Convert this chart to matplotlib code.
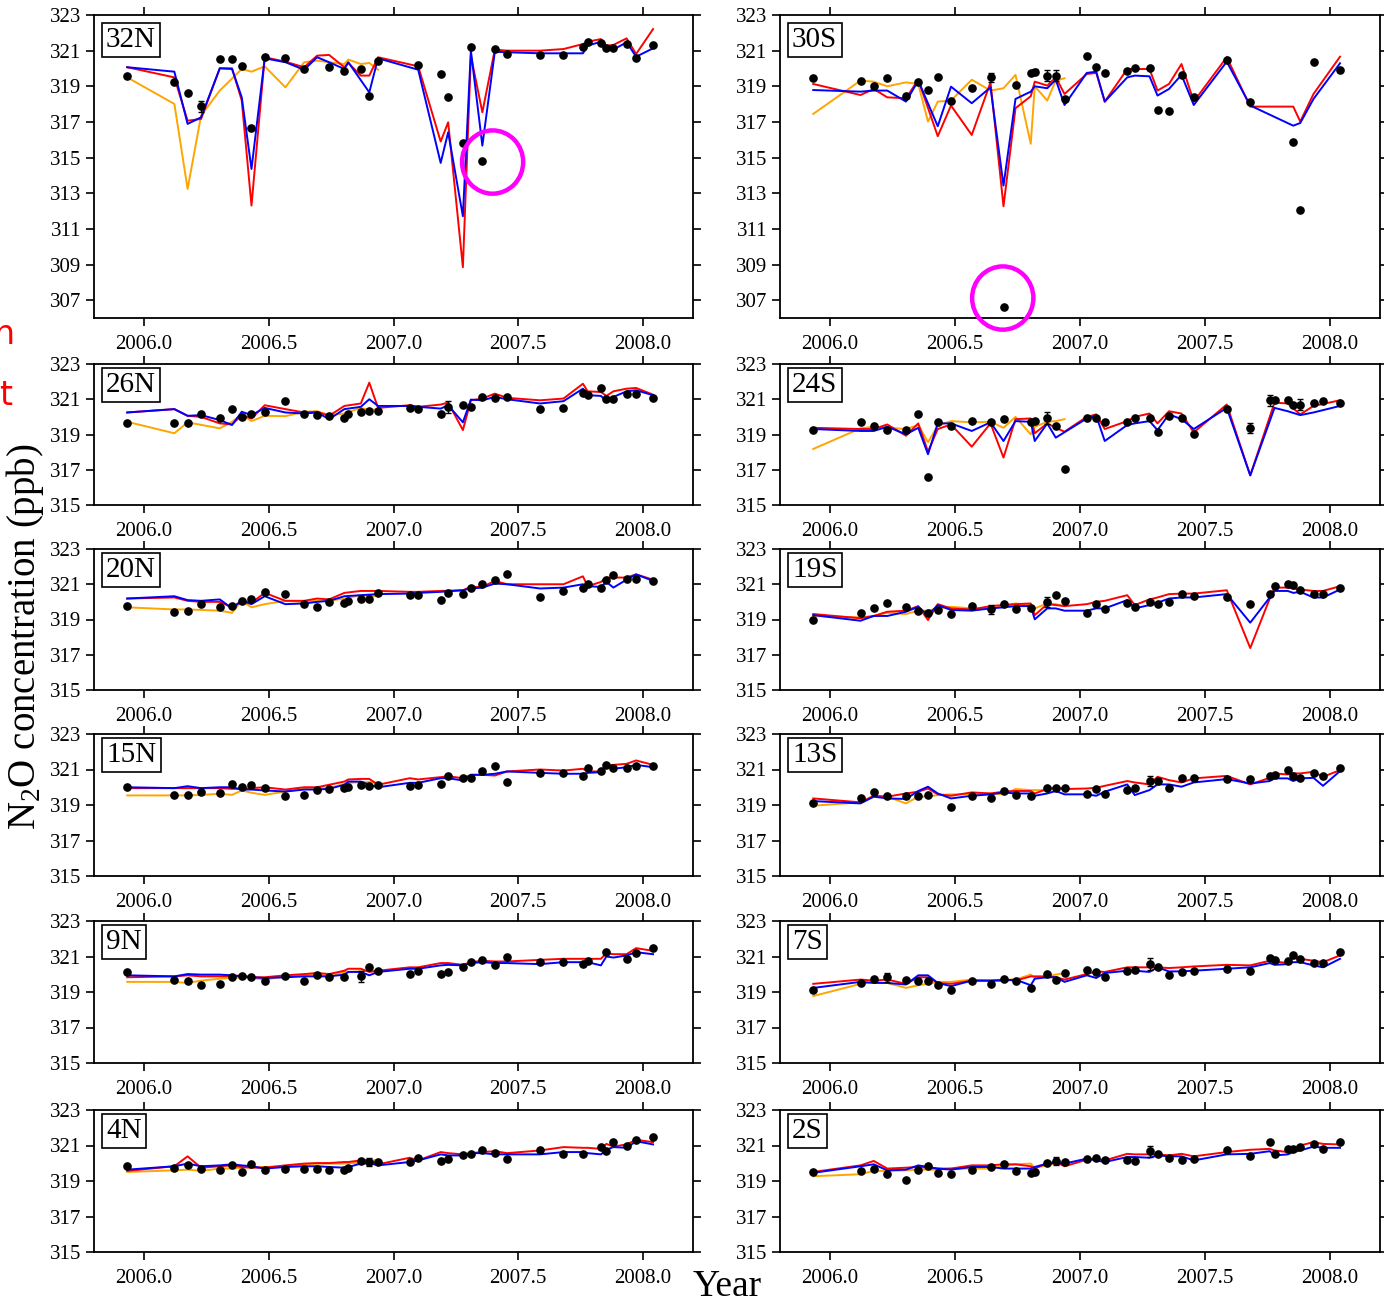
import numpy as np
import matplotlib
matplotlib.use("Agg")
import matplotlib.pyplot as plt
from matplotlib.patches import Ellipse
from matplotlib.ticker import FormatStrFormatter

nan = np.nan

# Sampling times (decimal year) shared by all latitude bands
T = [2005.933, 2006.122, 2006.175, 2006.229, 2006.304, 2006.353, 2006.392, 2006.431,
     2006.484, 2006.567, 2006.642, 2006.694, 2006.742, 2006.803, 2006.819, 2006.869,
     2006.903, 2006.938, 2007.027, 2007.065, 2007.099, 2007.189, 2007.219, 2007.278,
     2007.310, 2007.356, 2007.406, 2007.455, 2007.587, 2007.681, 2007.759, 2007.778,
     2007.831, 2007.853, 2007.881, 2007.934, 2007.972, 2008.040]

# ---- 32N ----
OBS_32N = [319.60, 319.22, 318.63, 317.88, 320.53, 320.53, 320.12, 316.64, 320.63, 320.57,
           319.97, nan, 320.10, 319.86, nan, 319.95, 318.44, 320.44, nan, nan,
           320.21, 319.67, 318.38, 315.82, 321.22, 314.83, 321.09, 320.81, 320.76, 320.78,
           321.19, 321.47, 321.43, 321.13, 321.13, 321.37, 320.57, 321.32]
RED_32N = [320.07, 319.50, 317.07, 317.17, 320.01, 320.01, 318.20, 312.31, 320.63, 320.38,
           320.07, 320.72, 320.76, 320.07, 320.31, 319.60, 319.60, 320.63, nan, nan,
           320.12, 315.90, 316.98, 308.85, 320.72, 317.54, 321.06, 321.00, 321.00, 321.09,
           321.37, 321.50, 321.65, 321.28, 321.32, 321.69, 320.81, 322.21]
BLUE_32N = [320.07, 319.82, 316.89, 317.26, 320.01, 319.97, 318.38, 314.36, 320.57, 320.35,
            319.93, 320.63, 320.35, 319.97, 320.35, nan, 318.66, 320.57, nan, nan,
            319.93, 314.70, 316.42, 311.71, 321.00, 315.67, 320.94, 320.91, 320.85, 320.85,
            320.85, 321.28, 321.50, 321.09, 321.06, 321.47, 320.66, 321.13]
ORANGE_32N = [319.50, 318.01, 313.24, 317.36, 318.76, nan, 319.97, 319.82, 320.12, 318.94,
              320.35, 320.44, 320.35, 320.25, 320.50, 320.25, 320.31, 319.93]

# ---- 30S ----
OBS_30S = [319.45, 319.32, 319.04, 319.45, 318.48, 319.22, 318.79, 319.50, 318.20, 318.89,
           319.50, 306.61, 319.09, 319.73, 319.82, 319.60, 319.60, 318.29, 320.72, 320.07,
           319.75, 319.88, 320.01, 320.01, 317.67, 317.60, 319.64, 318.38, 320.50, 318.14,
           nan, nan, nan, 315.90, 312.08, 320.38, nan, 319.93]
RED_30S = [319.13, 318.51, 318.85, 318.38, 318.33, 319.37, nan, 316.20, 317.92, 316.27,
           319.22, 312.27, 317.77, 318.44, 319.26, 319.04, 319.50, 318.57, 319.69, 319.75,
           318.14, 319.97, 319.97, 319.97, 318.76, 319.13, 320.25, 318.14, 320.63, 317.86,
           nan, nan, nan, 317.86, 317.02, 318.57, nan, 320.66]
BLUE_30S = [318.79, 318.70, 318.76, 318.76, 318.14, 319.32, nan, 316.76, 318.98, 318.05,
            318.94, 313.43, 318.29, 318.70, 319.00, 318.89, 319.37, 317.95, 319.75, 319.82,
            318.14, 319.50, 319.60, 319.56, 318.48, 318.85, 319.64, 317.95, 320.38, 317.92,
            nan, nan, nan, 316.79, 316.94, 318.29, nan, 320.29]
ORANGE_30S = [317.45, 319.32, 319.26, 319.00, 319.22, 319.13, 317.02, 318.14, 318.20, 319.37,
              318.76, 318.89, 319.64, 315.77, 319.00, 318.20, 319.32, 319.45]

# ---- 26N ----
OBS_26N = [319.67, 319.63, 319.63, 320.19, 319.91, 320.44, 320.00, 320.19, 320.29, 320.91,
           320.14, 320.10, 320.06, 319.95, 320.14, 320.25, 320.32, 320.34, nan, 320.51,
           320.44, 320.19, 320.57, 320.70, 320.57, 321.13, 321.08, 321.13, 320.47, 320.51,
           321.38, 321.26, 321.64, 321.04, 321.04, 321.32, 321.32, 321.08]
RED_26N = [320.25, 320.44, 320.06, 320.00, 319.63, 319.57, 320.10, 319.91, 320.66, 320.44,
           320.25, 320.29, 320.06, 320.62, nan, 320.76, 321.94, 320.51, nan, 320.66,
           320.57, 320.70, 320.81, 319.25, 320.94, 321.04, 321.32, 321.08, 320.94, 321.04,
           321.88, 321.45, 321.41, 321.19, 321.45, 321.60, 321.64, 321.26]
BLUE_26N = [320.25, 320.44, 320.06, 320.10, 319.82, 319.54, 320.29, 320.10, 320.51, 320.25,
            320.19, 320.25, 319.87, 320.44, nan, 320.57, 321.00, 320.62, nan, 320.62,
            320.57, 320.47, 320.66, 319.69, 320.98, 320.94, 321.13, 321.00, 320.76, 320.89,
            321.60, 321.23, 321.19, 320.89, 321.13, 321.45, 321.51, 321.23]
ORANGE_26N = [319.72, 319.07, 319.69, nan, 319.35, 319.72, 320.14, 319.76, 320.06, 320.04,
              320.29, 320.32, 320.10, 320.19, nan, 320.51, 320.38, 320.44]

# ---- 24S ----
OBS_24S = [319.25, 319.72, 319.50, 319.25, 319.25, 320.14, 316.57, 319.69, 319.50, 319.76,
           319.69, 319.87, nan, 319.72, 319.76, 319.95, 319.50, 317.04, 319.91, 319.95,
           319.69, 319.69, 319.95, 319.95, 319.12, 320.06, 319.95, 319.01, 320.44, 319.38,
           320.94, 320.94, 320.94, 320.70, 320.70, 320.76, 320.89, 320.79]
RED_24S = [319.38, 319.31, 319.31, 319.57, 318.93, 319.63, 318.03, 319.31, 319.57, 318.31,
           319.63, 317.69, 319.87, 319.91, 319.07, 319.63, 319.38, 319.16, 320.00, 320.14,
           319.31, 319.76, 320.00, 320.19, 319.63, 320.32, 320.19, 319.12, 320.70, 316.68,
           nan, 320.81, 320.76, nan, 320.14, 320.62, nan, 320.94]
BLUE_24S = [319.31, 319.20, 319.20, 319.44, 319.01, 319.38, 317.88, 319.63, 319.63, 319.20,
            319.69, 318.63, 319.76, 319.72, 318.63, 319.63, 318.82, nan, 319.91, 320.06,
            318.63, 319.54, 319.63, 319.76, 319.25, 320.14, 319.87, 319.31, 320.51, 316.68,
            nan, 320.51, 320.32, nan, 320.10, 320.25, nan, 320.62]
ORANGE_24S = [318.18, 319.35, 319.44, 319.38, 319.31, 319.54, 318.56, 319.50, 319.76, 319.69,
              319.72, 319.38, 320.00, 319.01, 319.44, 319.72, 319.76, 319.87]

# ---- 20N ----
OBS_20N = [319.76, 319.44, 319.50, 319.87, 319.72, 319.76, 320.06, 320.14, 320.57, 320.47,
           319.87, 319.72, 320.00, 319.95, 320.06, 320.19, 320.19, 320.51, nan, 320.38,
           320.38, 320.10, 320.51, 320.44, 320.81, 321.00, 321.26, 321.56, 320.25, 320.62,
           320.76, 321.04, 320.81, 321.26, 321.51, 321.32, 321.32, 321.19]
RED_20N = [320.19, 320.25, 320.06, 320.00, 320.00, 319.69, 320.06, 319.95, 320.51, 320.06,
           320.06, 320.19, 320.14, 320.51, nan, 320.62, nan, 320.62, nan, 320.57,
           320.57, 320.62, nan, 320.66, 320.85, 320.85, 321.19, 321.00, 321.00, 321.00,
           321.45, 320.89, 321.13, 321.38, 321.38, 321.38, 321.56, 321.26]
BLUE_20N = [320.19, 320.32, 320.10, 320.06, 320.14, 319.63, 320.06, 319.87, 320.32, 319.87,
            319.91, 320.00, 320.06, 320.32, nan, 320.38, nan, 320.44, nan, 320.47,
            320.51, 320.57, nan, 320.66, 320.76, 320.81, 321.04, 321.00, 320.76, 320.81,
            321.00, 320.89, 320.85, 321.13, 320.81, 321.26, 321.56, 321.19]
ORANGE_20N = [319.69, 319.57, 319.57, nan, 319.50, 319.38, 320.06, 319.69, 319.87, 320.06,
              320.00, 320.06, 320.06, 320.19, nan, 320.38, nan, 320.32]

# ---- 19S ----
OBS_19S = [318.97, 319.38, 319.63, 319.91, 319.69, 319.50, 319.35, 319.54, 319.31, 319.76,
           319.57, 319.87, 319.57, 319.63, nan, 320.00, 320.38, 320.06, 319.38, 319.87,
           319.57, 319.91, 319.69, 320.00, 319.87, 320.00, 320.44, 320.32, 320.25, 319.87,
           320.44, 320.89, 321.00, 320.94, 320.70, 320.44, 320.47, 320.76]
RED_19S = [319.31, 319.07, 319.20, 319.44, 319.50, 319.76, 318.97, 319.87, 319.63, 319.57,
           319.76, 319.82, 319.87, 319.91, 319.25, 319.87, 319.82, 319.76, 319.87, 320.00,
           320.06, 320.38, 319.82, 320.14, 320.25, 320.44, 320.47, 320.47, 320.66, 317.38,
           320.19, 320.81, 320.81, 320.76, 320.70, 320.62, 320.62, 320.89]
BLUE_19S = [319.25, 318.93, 319.20, 319.20, 319.44, 319.72, 319.25, 319.82, 319.54, 319.50,
            319.63, 319.69, 319.76, 319.76, 319.01, 319.63, 319.63, 319.50, 319.50, 319.63,
            319.63, 320.10, 319.63, 319.82, 319.95, 320.19, 320.25, 320.25, 320.44, 318.82,
            320.25, 320.62, 320.62, 320.51, 320.57, 320.25, 320.25, 320.70]
ORANGE_19S = [319.20, 319.12, 319.20, 319.38, 319.31, 319.50, 319.50, 319.63, 319.72, 319.63,
              319.63, 319.76, 319.91, 319.82, 319.63, 319.91, 319.87, 319.76]

# ---- 15N ----
OBS_15N = [320.00, 319.57, 319.57, 319.76, 319.69, 320.19, 320.00, 320.14, 319.95, 319.50,
           319.57, 319.87, 319.91, 319.95, 320.00, 320.14, 320.06, 320.14, nan, 320.06,
           320.14, 320.19, 320.62, 320.51, 320.51, 320.89, 321.19, 320.32, 320.81, 320.81,
           320.66, 321.08, 320.94, 321.26, 321.08, 321.08, 321.19, 321.19]
RED_15N = [319.95, 319.95, 319.95, 319.95, 319.95, 319.91, 319.91, 319.95, 320.00, 319.87,
           320.00, 320.00, 320.14, 320.32, 320.44, 320.47, 320.47, 320.14, nan, 320.51,
           320.44, 320.57, 320.62, 320.51, 320.70, 320.70, 320.66, 320.89, 321.00, 320.94,
           321.04, 320.89, 320.89, 321.26, 321.26, 321.32, 321.51, 321.26]
BLUE_15N = [320.00, 319.95, 320.06, 319.95, 320.00, 320.00, 319.87, 319.87, 319.82, 319.76,
            319.87, 319.87, 319.91, 320.14, 320.32, 320.32, 320.14, 320.00, nan, 320.25,
            320.25, 320.51, 320.51, 320.38, 320.70, 320.70, 320.76, 320.89, 320.81, 320.76,
            320.76, 320.81, 320.85, 321.26, 321.04, 321.13, 321.26, 321.13]
ORANGE_15N = [319.54, 319.54, 319.54, 319.57, 319.63, 319.57, 319.82, 319.69, 319.57, 319.76,
              319.91, 319.95, 319.95, 320.19, 320.25, 320.29, 320.29, 320.25]

# ---- 13S ----
OBS_13S = [319.09, 319.37, 319.71, 319.52, 319.52, 319.52, 319.56, nan, 318.91, 319.52,
           319.41, 319.79, 319.56, 319.52, nan, 319.97, 319.97, 319.97, 319.60, 319.90,
           319.60, 319.84, 319.97, 320.35, 320.35, 319.93, 320.50, 320.50, 320.46, 320.46,
           320.64, 320.68, 320.96, 320.64, 320.53, 320.83, 320.64, 321.06]
RED_13S = [319.37, 319.15, 319.52, 319.47, 319.65, 319.75, 319.93, 319.60, 319.52, 319.71,
           319.65, 319.75, 319.79, 319.79, 319.65, 319.90, 319.97, 319.90, 319.93, 319.97,
           320.08, 320.35, 320.27, 320.16, 320.59, 320.40, 320.27, 320.50, 320.64, 320.16,
           320.53, 320.78, 320.72, 320.78, 320.78, 320.87, 320.59, 320.96]
BLUE_13S = [319.22, 319.09, 319.47, 319.37, 319.34, 319.79, 320.03, 319.65, 319.37, 319.52,
            319.60, 319.71, 319.65, 319.65, 319.52, 319.65, 319.79, 319.60, 319.60, 319.52,
            319.75, 320.16, 319.56, 319.84, 320.16, 320.16, 320.03, 320.27, 320.46, 320.21,
            320.35, 320.50, 320.50, 320.35, 320.50, 320.53, 320.08, 320.91]
ORANGE_13S = [318.96, 319.15, 319.47, 319.47, 319.09, 319.47, 319.47, 319.56, 319.60, 319.60,
              319.65, 319.60, 319.90, 319.84, 319.84, 319.84, 319.97, 319.93]

# ---- 9N ----
OBS_9N = [320.13, 319.70, 319.60, 319.38, 319.46, 319.83, 319.88, 319.83, 319.64, 319.88,
          319.60, 319.94, 319.83, 319.83, nan, 319.88, 320.39, 320.20, nan, 320.01,
          320.20, 320.01, 320.13, 320.39, 320.68, 320.81, 320.50, 321.00, 320.68, 320.68,
          320.57, 320.76, nan, 321.24, nan, 320.87, 321.19, 321.47]
RED_9N = [319.83, 319.88, 319.94, 319.88, 319.88, 319.88, 319.94, 319.83, 319.83, 319.94,
          320.01, 320.07, 320.01, 320.20, 320.31, 320.31, 320.13, 320.20, nan, 320.39,
          320.39, 320.63, 320.63, 320.53, 320.68, 320.76, 320.72, 320.72, 320.81, 320.87,
          320.87, 320.87, 320.87, 321.19, 321.13, 321.13, 321.47, 321.32]
BLUE_9N = [319.94, 319.88, 320.01, 319.98, 319.98, 319.94, 319.88, 319.83, 319.79, 319.83,
           319.88, 319.88, 319.88, 319.98, 320.13, 320.13, 319.94, 320.13, nan, 320.31,
           320.31, 320.50, 320.53, 320.50, 320.63, 320.68, 320.63, 320.63, 320.57, 320.68,
           320.68, 320.68, 320.50, 321.00, 320.94, 321.06, 321.24, 321.13]
ORANGE_9N = [319.57, 319.57, 319.51, 319.64, 319.75, 319.79, 319.83, 319.79, 319.70, 319.88,
             319.94, 320.01, 319.88, 320.13, 320.13, 320.16, 320.20, 320.20]

# ---- 7S ----
OBS_7S = [319.14, 319.51, 319.75, 319.83, 319.70, 319.64, 319.60, 319.38, 319.14, 319.60,
          319.46, 319.75, 319.64, 319.23, nan, 320.01, 319.70, 320.07, 320.26, 320.13,
          319.83, 320.20, 320.26, 320.57, 320.39, 319.94, 320.13, 320.20, 320.31, 320.20,
          320.94, 320.81, 320.76, 321.06, 320.87, 320.63, 320.63, 321.28]
RED_7S = [319.46, 319.70, 319.64, 319.70, 319.46, 319.83, 319.83, 319.51, 319.46, 319.64,
          319.64, 319.70, 319.64, 319.88, 319.88, 319.88, 319.83, 319.70, 320.01, 320.16,
          320.13, 320.39, 320.39, 320.39, 320.39, 320.35, 320.39, 320.44, 320.53, 320.50,
          320.76, 320.72, 320.63, 320.91, 320.87, 320.76, 320.68, 321.06]
BLUE_7S = [319.23, 319.57, 319.51, 319.51, 319.42, 319.94, 319.94, 319.51, 319.33, 319.64,
           319.64, 319.64, 319.70, 319.38, 319.75, 319.83, 319.83, 319.57, 319.94, 319.79,
           320.07, 320.20, 320.20, 320.13, 320.39, 320.16, 320.16, 320.20, 320.31, 320.39,
           320.63, 320.53, 320.57, 320.68, 320.68, 320.50, 320.39, 320.87]
ORANGE_7S = [318.77, 319.46, 319.57, 319.51, 319.23, 319.38, 319.46, 319.57, 319.57, 319.70,
             319.64, 319.70, 319.70, 319.98, 319.79, 319.88, 319.98, 320.07]

# ---- 4N ----
OBS_4N = [319.83, 319.75, 319.88, 319.70, 319.60, 319.88, 319.51, 319.98, 319.60, 319.70,
          319.70, 319.70, 319.60, 319.64, 319.75, 320.13, 320.07, 320.07, nan, 320.07,
          320.31, 320.13, 320.26, 320.44, 320.53, 320.76, 320.57, 320.26, 320.76, 320.50,
          320.50, nan, 320.94, 320.68, 321.19, 321.00, 321.32, 321.47]
RED_4N = [319.57, 319.83, 320.39, 319.75, 319.83, 319.88, 319.79, 319.75, 319.75, 319.88,
          319.98, 320.01, 320.01, 320.07, 320.07, 320.16, 320.20, 319.94, nan, 320.31,
          320.16, 320.63, 320.57, 320.50, 320.57, 320.63, 320.68, 320.57, 320.72, 320.91,
          320.87, 320.87, 320.81, 321.09, 320.94, 321.06, 321.32, 321.19]
BLUE_4N = [319.64, 319.83, 319.98, 319.83, 319.88, 319.94, 319.88, 319.83, 319.70, 319.79,
           319.83, 319.83, 319.79, 319.75, 319.79, 319.98, 320.01, 319.88, nan, 320.07,
           320.16, 320.50, 320.44, 320.44, 320.57, 320.57, 320.50, 320.50, 320.50, 320.63,
           320.63, 320.57, 320.50, 320.76, 320.91, 320.87, 321.24, 321.06]
ORANGE_4N = [319.51, 319.60, 319.64, 319.57, 319.70, 319.70, 319.75, 319.79, 319.79, 319.83,
             319.94, 319.98, 319.98, 319.98, 320.01, 320.01, 320.13, 320.20]

# ---- 2S ----
OBS_2S = [319.51, 319.57, 319.70, 319.38, 319.08, 319.60, 319.83, 319.46, 319.38, 319.60,
          319.79, 319.94, 319.57, 319.46, 319.51, 320.01, 320.13, 320.07, 320.26, 320.31,
          320.16, 320.20, 320.13, 320.68, 320.50, 320.31, 320.20, 320.26, 320.72, 320.39,
          321.19, 320.50, 320.81, 320.81, 320.94, 321.09, 320.81, 321.19]
RED_2S = [319.51, 319.88, 320.13, 319.70, 319.75, 319.79, 319.75, 319.70, 319.70, 319.88,
          319.88, 319.94, 319.94, 319.83, 319.70, 320.01, 320.07, 319.83, 320.20, 320.26,
          320.16, 320.53, 320.50, 320.50, 320.50, 320.44, 320.53, 320.39, 320.63, 320.76,
          320.81, 320.72, 320.63, 320.87, 321.00, 321.19, 321.09, 321.06]
BLUE_2S = [319.46, 319.83, 319.94, 319.60, 319.64, 319.88, 319.79, 319.70, 319.64, 319.79,
           319.79, 319.70, 319.70, 319.70, 319.79, 319.98, 320.01, 319.98, 320.26, 320.16,
           320.07, 320.35, 320.35, 320.31, 320.44, 320.39, 320.39, 320.16, 320.50, 320.53,
           320.68, 320.44, 320.50, 320.63, 320.72, 320.94, 320.87, 320.87]
ORANGE_2S = [319.27, 319.38, 319.57, 319.57, 319.60, 319.64, 319.64, 319.64, 319.70, 319.70,
             319.70, 319.83, 319.94, 319.98, 319.75, 319.88, 320.01, 320.13]

# Observation uncertainties (index -> half-width, ppb) where an error bar is drawn
ERRORS = {
    "32N": {3: 0.30},
    "30S": {10: 0.25, 14: 0.15, 15: 0.30, 16: 0.30},
    "26N": {22: 0.35},
    "24S": {15: 0.35, 29: 0.30, 30: 0.30, 34: 0.30},
    "19S": {10: 0.25, 15: 0.30},
    "13S": {23: 0.30},
    "9N": {15: 0.30},
    "7S": {3: 0.25, 23: 0.35},
    "4N": {16: 0.25},
    "2S": {16: 0.25, 23: 0.30},
}

# Outlying observations ringed for attention: (year, ppb)
HIGHLIGHT = {"32N": (2007.397, 314.75), "30S": (2006.691, 307.12)}

LEFT_COLUMN = [("32N", OBS_32N, RED_32N, BLUE_32N, ORANGE_32N),
               ("26N", OBS_26N, RED_26N, BLUE_26N, ORANGE_26N),
               ("20N", OBS_20N, RED_20N, BLUE_20N, ORANGE_20N),
               ("15N", OBS_15N, RED_15N, BLUE_15N, ORANGE_15N),
               ("9N", OBS_9N, RED_9N, BLUE_9N, ORANGE_9N),
               ("4N", OBS_4N, RED_4N, BLUE_4N, ORANGE_4N)]
RIGHT_COLUMN = [("30S", OBS_30S, RED_30S, BLUE_30S, ORANGE_30S),
                ("24S", OBS_24S, RED_24S, BLUE_24S, ORANGE_24S),
                ("19S", OBS_19S, RED_19S, BLUE_19S, ORANGE_19S),
                ("13S", OBS_13S, RED_13S, BLUE_13S, ORANGE_13S),
                ("7S", OBS_7S, RED_7S, BLUE_7S, ORANGE_7S),
                ("2S", OBS_2S, RED_2S, BLUE_2S, ORANGE_2S)]

# ---------------------------------------------------------------- layout
W, H = 1384, 1304
plt.rcParams["font.family"] = ["Liberation Serif", "DejaVu Serif"]
plt.rcParams["mathtext.fontset"] = "custom"
plt.rcParams["mathtext.rm"] = "Liberation Serif"
plt.rcParams["mathtext.it"] = "Liberation Serif:italic"

fig = plt.figure(figsize=(W / 100, H / 100), dpi=100)
fig.patch.set_facecolor("white")

COL_X = [(94, 693), (780, 1380)]
ROW_Y = [(15, 318), (364, 505), (549, 690), (734, 876), (921, 1063), (1110, 1252)]

t_arr = np.array(T)


def series(vals):
    v = np.array(vals, dtype=float)
    t = t_arr[:len(v)]
    ok = ~np.isnan(v)
    return t[ok], v[ok]


def draw_panel(ax, name, obs, red, blue, orange, top_row):
    for vals, col in ((orange, "#ffa500"), (red, "#ff0000"), (blue, "#0000ff")):
        tx, vy = series(vals)
        ax.plot(tx, vy, color=col, lw=1.4, zorder=2)
    tx, vy = series(obs)
    ax.plot(tx, vy, "o", color="black", ms=5.2, zorder=4)
    errs = ERRORS.get(name, {})
    if errs:
        idx = sorted(errs)
        ax.errorbar([T[i] for i in idx], [obs[i] for i in idx],
                    yerr=[errs[i] for i in idx], fmt="none", ecolor="black",
                    elinewidth=1.0, capsize=2, zorder=4)

    ax.set_xlim(2005.8, 2008.2)
    ax.set_xticks([2006.0, 2006.5, 2007.0, 2007.5, 2008.0])
    ax.xaxis.set_major_formatter(FormatStrFormatter("%.1f"))
    if top_row:
        ax.set_ylim(306.0, 323.0)
        ax.set_yticks(np.arange(307, 324, 2))
    else:
        ax.set_ylim(315.0, 323.0)
        ax.set_yticks(np.arange(315, 324, 2))
    ax.tick_params(axis="both", which="both", direction="out", length=6, width=1.2,
                   top=True, right=True, labelsize=15, color="black")
    ax.tick_params(axis="x", pad=6)
    ax.tick_params(axis="y", pad=3)
    for sp in ax.spines.values():
        sp.set_linewidth(1.3)
        sp.set_color("black")

    if name in HIGHLIGHT:
        cx, cy = HIGHLIGHT[name]
        ax.add_patch(Ellipse((cx, cy), width=0.245, height=3.55, fill=False,
                             ec="#ff00ff", lw=3.2, clip_on=False, zorder=6))

    dy = 12 if top_row else 8
    ax.annotate(name, xy=(0, 1), xycoords="axes fraction",
                xytext=(12, -dy), textcoords="offset pixels",
                ha="left", va="top", fontsize=21, zorder=10,
                bbox=dict(boxstyle="square,pad=0.15", fc="white", ec="black", lw=1.2))


for col, panels in enumerate((LEFT_COLUMN, RIGHT_COLUMN)):
    x0, x1 = COL_X[col]
    for row, (name, obs, red, blue, orange) in enumerate(panels):
        y0, y1 = ROW_Y[row]
        ax = fig.add_axes([x0 / W, 1 - y1 / H, (x1 - x0) / W, (y1 - y0) / H])
        draw_panel(ax, name, obs, red, blue, orange, row == 0)

fig.text(25 / W, 1 - 637 / H, "N$_2$O concentration (ppb)", rotation=90,
         ha="center", va="center", fontsize=28)
fig.text(727 / W, 1 - 1287 / H, "Year", ha="center", va="center", fontsize=27)

# Fragments of slide text bleeding in at the left margin
fig.text(-6 / W, 1 - 335 / H, "n", color="red", fontsize=24, ha="left", va="center",
         family=["DejaVu Sans"])
fig.text(-1 / W, 1 - 395 / H, "t", color="red", fontsize=24, ha="left", va="center",
         family=["DejaVu Sans"])

fig.savefig("out.png", dpi=100, facecolor="white")
